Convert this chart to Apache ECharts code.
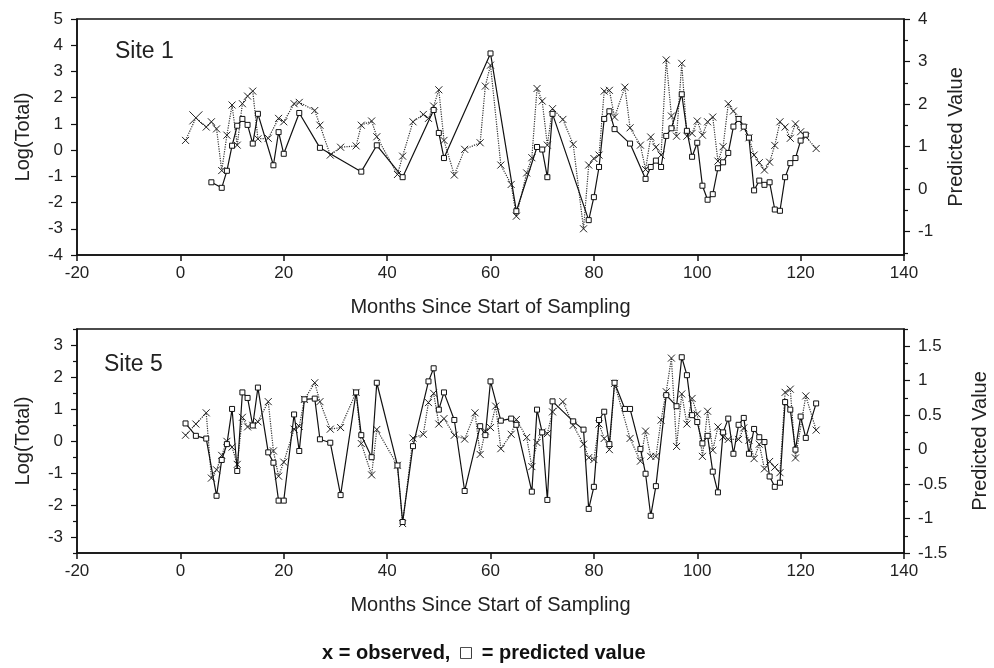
<!DOCTYPE html>
<html><head><meta charset="utf-8">
<script src="https://cdn.jsdelivr.net/npm/echarts@6/dist/echarts.min.js"></script>
<style>html,body{margin:0;padding:0;background:#fff}#c{width:994px;height:668px}</style>
</head><body><div id="c"></div>
<script>
// ---------- data ----------
const xMin = -20, xMax = 140, xStep = 20;

// Site 1 observed (left axis, Log(Total))
const s1ObsMonths = [1,3,5,6,7,8,9,10,11,12,13,14,15,17,19,20,22,23,26,27,29,31,34,35,37,38,42,43,45,47,48,49,50,51,53,55,58,59,60,62,64,65,67,68,69,70,71,72,74,76,78,79,80,81,82,83,84,86,87,89,90,91,92,93,94,95,96,97,98,99,100,101,102,103,104,105,106,107,108,109,110,111,112,113,114,115,116,117,118,119,120,121,123];
const s1ObsVals = [0.37,1.23,0.88,1.08,0.81,-0.78,0.57,1.72,0.19,1.77,2.06,2.25,0.43,0.45,1.21,1.08,1.77,1.82,1.51,0.95,-0.19,0.11,0.16,0.95,1.11,0.51,-0.93,-0.23,1.08,1.36,1.21,1.68,2.30,0.37,-0.95,0.03,0.28,2.44,3.24,-0.57,-1.31,-2.52,-0.87,-0.29,2.35,1.87,0.19,1.58,1.17,0.22,-3.00,-0.57,-0.32,-0.19,2.25,2.28,1.26,2.40,0.85,0.19,-0.74,0.50,0.11,-0.19,3.44,1.30,0.53,3.31,0.53,0.64,1.11,0.57,1.08,1.26,-0.42,0.13,1.77,1.49,1.17,0.85,0.47,-0.19,-0.48,-0.76,-0.46,0.18,1.08,0.88,0.45,1.00,0.70,0.51,0.06];

// Site 1 predicted (right axis, Predicted Value)
const s1PredMonths = [6,8,9,10,11,12,13,14,15,18,19,20,23,27,35,38,43,49,50,51,60,65,69,70,71,72,79,80,81,82,83,84,87,90,91,92,93,94,95,97,98,99,100,101,102,103,104,105,106,107,108,109,110,111,112,113,114,115,116,117,118,119,120,121];
const s1PredVals = [0.16,0.03,0.43,1.02,1.49,1.65,1.51,1.07,1.77,0.56,1.34,0.83,1.79,0.97,0.41,1.03,0.28,1.86,1.32,0.73,3.19,-0.52,0.99,0.93,0.28,1.77,-0.73,-0.19,0.52,1.65,1.83,1.41,1.07,0.24,0.52,0.67,0.52,1.25,1.43,2.23,1.37,0.76,1.09,0.08,-0.25,-0.12,0.49,0.63,0.85,1.47,1.65,1.47,1.21,-0.03,0.20,0.10,0.16,-0.48,-0.51,0.28,0.61,0.73,1.14,1.28];

// Site 5 observed
const s5ObsMonths = [1,3,5,6,7,8,9,10,11,12,13,14,15,17,18,19,20,22,23,24,26,27,29,31,34,35,37,38,42,43,45,47,48,49,50,51,53,55,57,58,59,60,61,62,64,65,67,68,69,70,71,72,74,76,78,79,80,81,82,83,84,87,89,90,91,92,93,94,95,96,97,98,99,100,101,102,103,104,105,106,108,109,110,111,112,113,114,115,116,117,118,119,121,123];
const s5ObsVals = [0.18,0.53,0.88,-1.16,-0.90,-0.45,-0.01,-0.19,-0.73,0.74,0.44,0.49,0.60,1.23,-0.31,-1.10,-0.66,0.37,0.46,1.30,1.82,1.23,0.37,0.42,1.52,-0.08,-1.06,0.36,-0.76,-2.58,0.09,0.21,1.20,1.49,0.53,0.70,0.18,0.06,0.88,-0.42,0.31,0.42,1.09,-0.24,0.21,0.67,0.11,-0.80,-0.05,0.28,0.23,0.91,1.23,0.49,-0.10,-0.52,-0.58,0.53,0.08,-0.27,1.80,0.08,-0.63,0.31,-0.48,-0.48,0.65,1.54,2.59,-0.17,1.47,0.53,1.33,0.84,-0.48,0.93,-0.29,0.44,0.12,0.05,0.05,0.41,0.02,-0.55,-0.10,-0.87,-0.64,-0.82,-0.99,1.52,1.62,-0.53,1.41,0.34];

// Site 5 predicted
const s5PredMonths = [1,3,5,7,8,9,10,11,12,13,14,15,17,18,19,20,22,23,24,26,27,29,31,34,35,37,38,42,43,45,48,49,50,51,53,55,58,59,60,62,64,65,68,69,70,71,72,76,78,79,80,81,82,83,84,86,87,89,90,91,92,94,96,97,98,99,100,101,102,103,104,105,106,107,108,109,110,111,112,113,114,115,116,117,118,119,120,121,123];
const s5PredVals = [0.38,0.20,0.16,-0.67,-0.15,0.08,0.59,-0.31,0.83,0.75,0.35,0.90,-0.04,-0.19,-0.74,-0.74,0.51,-0.02,0.73,0.74,0.15,0.10,-0.66,0.83,0.21,-0.11,0.97,-0.23,-1.05,0.05,0.99,1.18,0.58,0.83,0.43,-0.60,0.34,0.21,0.99,0.42,0.45,0.36,-0.61,0.58,0.25,-0.73,0.70,0.41,0.29,-0.86,-0.54,0.43,0.55,0.08,0.97,0.59,0.59,0.01,-0.35,-0.96,-0.53,0.79,0.63,1.34,1.08,0.50,0.40,0.09,0.20,-0.32,-0.62,0.25,0.45,-0.06,0.36,0.46,-0.06,0.30,0.18,0.11,-0.39,-0.54,-0.48,0.69,0.58,0.00,0.48,0.17,0.67];

// tick labels
const s1LeftLabels = [-4,-3,-2,-1,0,1,2,3,4,5];
const s1RightLabels = [-1,0,1,2,3,4];
const s1RightMinor = [-1.5,-0.5,0.5,1.5,2.5,3.5];
const s5LeftLabels = [-3,-2,-1,0,1,2,3];
const s5LeftMinor = [-3.5,-2.5,-1.5,-0.5,0.5,1.5,2.5,3.5];
const s5RightLabels = [-1.5,-1,-0.5,0,0.5,1,1.5];
const s5RightMinor = [-1.25,-0.75,-0.25,0.25,0.75,1.25,1.75];

// ---------- chart ----------
const FONT = "'Liberation Sans', Arial, Helvetica, sans-serif";
const pairs = (m, v) => m.map((x, i) => [x, v[i]]);
const X_PATH = 'path://M0,0L10,10M10,0L0,10';

const tickFont = {fontFamily: FONT, fontSize: 17, color: '#222'};
const nameFont = {fontFamily: FONT, fontSize: 20, color: '#222'};
const axLine = {show: true, onZero: false, lineStyle: {color: '#111', width: 1.5}};

function xAxisCfg(gridIndex) {
  return {
    type: 'value', gridIndex, min: xMin, max: xMax, interval: xStep,
    axisLine: axLine, splitLine: {show: false},
    axisTick: {show: true, inside: false, length: 6, lineStyle: {color: '#111', width: 1.5}},
    axisLabel: Object.assign({margin: 10}, tickFont),
    name: 'Months Since Start of Sampling', nameLocation: 'middle', nameGap: 42,
    nameTextStyle: nameFont
  };
}
function yAxisCfg(gridIndex, pos, min, max, labels, tickVals, tickLen, showLabels, name, nameGap, showLine) {
  return {
    type: 'value', gridIndex, position: pos, min, max,
    axisLine: showLine ? axLine : {show: false, onZero: false},
    splitLine: {show: false},
    axisTick: {show: true, inside: false, length: tickLen, customValues: tickVals, lineStyle: {color: '#111', width: 1.2}},
    axisLabel: Object.assign({show: showLabels, margin: 14, customValues: labels}, tickFont),
    name: name || '', nameLocation: 'middle', nameGap: nameGap || 0, nameRotate: 90,
    nameTextStyle: nameFont
  };
}

const obsStyle = {
  type: 'line', symbol: X_PATH, symbolSize: 7, symbolKeepAspect: true,
  lineStyle: {type: 'dotted', width: 1.2, color: '#333'},
  itemStyle: {color: 'rgba(0,0,0,0)', borderColor: '#222', borderWidth: 1},
  z: 2, animation: false
};
const predStyle = {
  type: 'line', symbol: 'rect', symbolSize: 5,
  lineStyle: {type: 'solid', width: 1.2, color: '#111'},
  itemStyle: {color: '#fff', borderColor: '#111', borderWidth: 1},
  z: 3, animation: false
};

const s1ObsData = pairs(s1ObsMonths, s1ObsVals);
s1ObsData[1] = {value: s1ObsData[1], symbolSize: 13};

const option = {
  backgroundColor: '#fff',
  animation: false,
  grid: [
    {left: 77, right: 90, top: 19, height: 236, show: true, borderColor: '#111', borderWidth: 1.5, backgroundColor: 'transparent', containLabel: false, outerBoundsMode: 'none'},
    {left: 77, right: 90, top: 329, height: 224, show: true, borderColor: '#111', borderWidth: 1.5, backgroundColor: 'transparent', containLabel: false, outerBoundsMode: 'none'}
  ],
  xAxis: [xAxisCfg(0), xAxisCfg(1)],
  yAxis: [
    // grid 0
    Object.assign(yAxisCfg(0, 'left', -4, 5, s1LeftLabels, s1LeftLabels, 6, true, 'Log(Total)', 44, true), {interval: 1}),
    yAxisCfg(0, 'right', -1.55, 4, s1RightLabels, s1RightLabels, 6, true, 'Predicted Value', 42, true),
    yAxisCfg(0, 'right', -1.55, 4, s1RightMinor, s1RightMinor, 4, false, '', 0, false),
    // grid 1
    yAxisCfg(1, 'left', -3.5, 3.5, s5LeftLabels, s5LeftLabels, 6, true, 'Log(Total)', 44, true),
    yAxisCfg(1, 'right', -1.5, 1.75, s5RightLabels, s5RightLabels, 6, true, 'Predicted Value', 66, true),
    yAxisCfg(1, 'left', -3.5, 3.5, s5LeftMinor, s5LeftMinor, 4, false, '', 0, false),
    yAxisCfg(1, 'right', -1.5, 1.75, s5RightMinor, s5RightMinor, 4, false, '', 0, false)
  ],
  series: [
    Object.assign({}, obsStyle, {xAxisIndex: 0, yAxisIndex: 0, data: s1ObsData}),
    Object.assign({}, predStyle, {xAxisIndex: 0, yAxisIndex: 1, data: pairs(s1PredMonths, s1PredVals)}),
    Object.assign({}, obsStyle, {xAxisIndex: 1, yAxisIndex: 3, data: pairs(s5ObsMonths, s5ObsVals)}),
    Object.assign({}, predStyle, {xAxisIndex: 1, yAxisIndex: 4, data: pairs(s5PredMonths, s5PredVals)})
  ],
  graphic: [
    {type: 'text', left: 115, top: 40, style: {text: 'Site 1', font: '23px ' + FONT, fill: '#222'}},
    {type: 'text', left: 104, top: 353, style: {text: 'Site 5', font: '23px ' + FONT, fill: '#222'}},
    {type: 'text', left: 322, top: 643, style: {
      text: '{b|x = observed, }{s|□}{b| = predicted value}',
      rich: {
        b: {fontFamily: FONT, fontSize: 20, fontWeight: 'bold', fill: '#111'},
        s: {fontFamily: 'DejaVu Sans', fontSize: 15, fill: '#111', padding: [0, 3, 0, 3]}
      }
    }}
  ]
};

const chart = echarts.init(document.getElementById('c'), null, {renderer: 'canvas'});
chart.setOption(option);
</script>
</body></html>
